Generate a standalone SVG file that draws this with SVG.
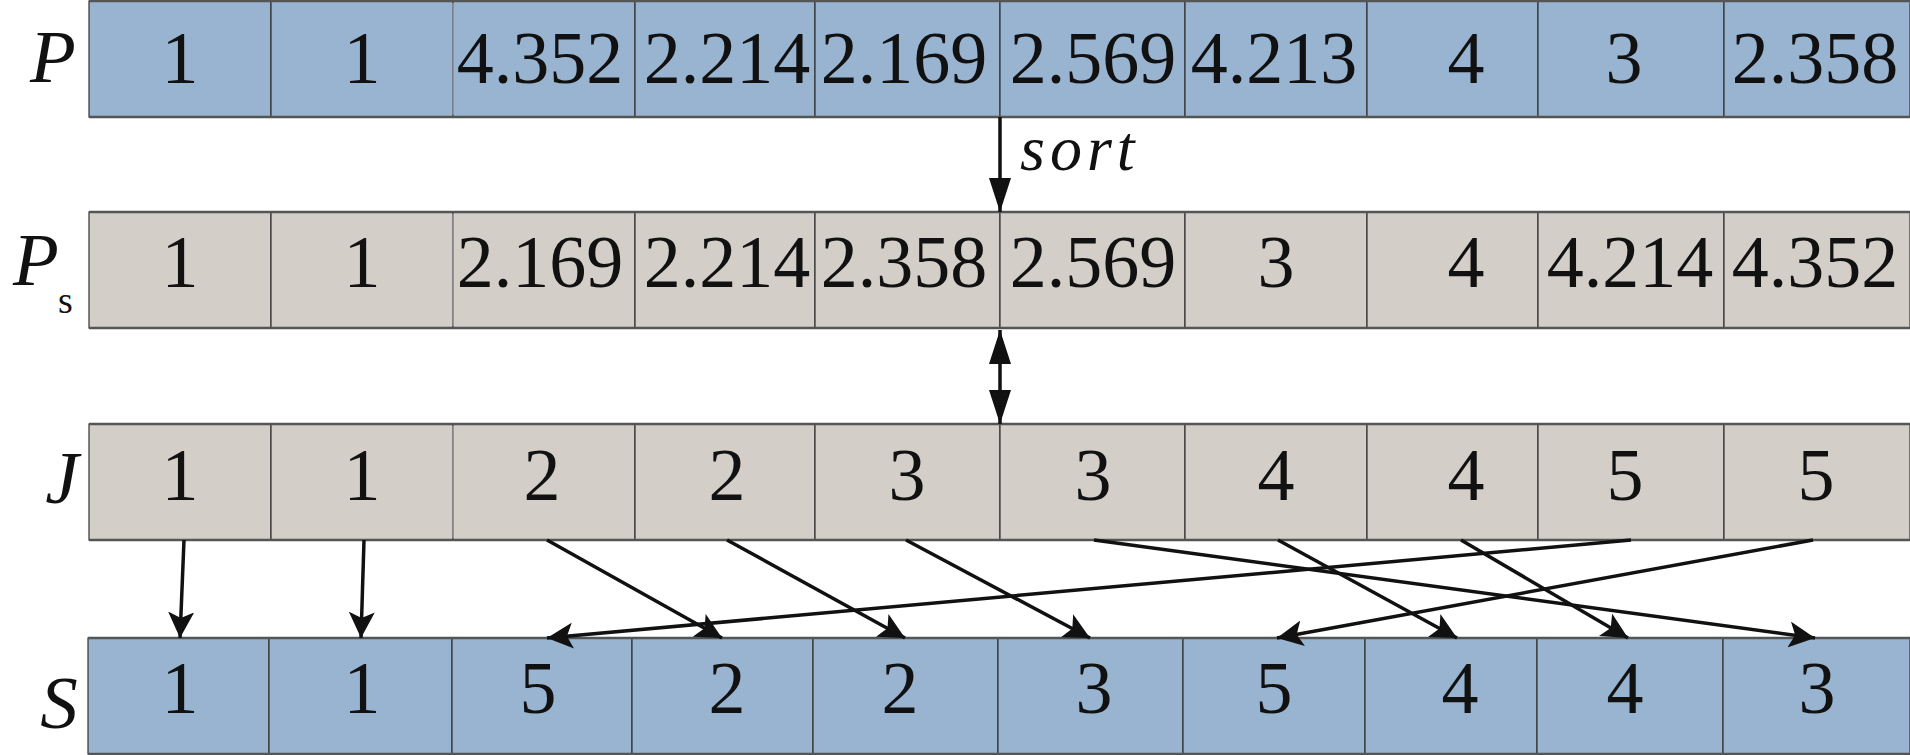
<svg xmlns="http://www.w3.org/2000/svg" width="1910" height="755" viewBox="0 0 1910 755">
<style>
.blue{fill:#99b4d1;stroke:#333;stroke-width:1.2}
.gray{fill:#d4cec9;stroke:#333;stroke-width:1.2}
.edge{stroke:#555;stroke-width:2.5;fill:none}
.faint{stroke:#b8bcc4;stroke-width:1}
.num{font-family:'Liberation Serif','Times New Roman',serif;font-size:74px;fill:#111;text-anchor:middle}
.lab{font-family:'Liberation Serif','Times New Roman',serif;font-size:75px;font-style:italic;fill:#111;text-anchor:middle}
.sub{font-family:'Liberation Serif','Times New Roman',serif;font-size:38px;fill:#111}
.sort{font-family:'Liberation Serif','Times New Roman',serif;font-size:64px;font-style:italic;fill:#111;letter-spacing:5px}
.con{stroke:#111;stroke-width:3.5;fill:none}
.big{stroke:#111;stroke-width:3.5;fill:none}
</style>
<defs>
<marker id="ah" viewBox="0 0 26 26" refX="26" refY="13" markerWidth="26" markerHeight="26" markerUnits="userSpaceOnUse" orient="auto">
<path d="M0,0 L26,13 L0,26 L6,13 Z" fill="#111"/>
</marker>
<marker id="bh" viewBox="0 0 34 22" refX="34" refY="11" markerWidth="34" markerHeight="22" markerUnits="userSpaceOnUse" orient="auto-start-reverse">
<path d="M0,0 L34,11 L0,22 Z" fill="#111"/>
</marker>
</defs>

<g id="row-P">
<text class="lab" x="53" y="82">P</text>
<g id="P-1"><rect class="blue" x="89" y="1" width="182" height="116"/><text class="num" x="180" y="83">1</text></g>
<g id="P-2"><rect class="blue" x="271" y="1" width="182" height="116"/><text class="num" x="362" y="83">1</text></g>
<g id="P-3"><rect class="blue" x="453" y="1" width="182" height="116"/><text class="num" x="540" y="83">4.352</text></g>
<g id="P-4"><rect class="blue" x="635" y="1" width="180" height="116"/><text class="num" x="727" y="83">2.214</text></g>
<g id="P-5"><rect class="blue" x="815" y="1" width="185" height="116"/><text class="num" x="904" y="83">2.169</text></g>
<g id="P-6"><rect class="blue" x="1000" y="1" width="185" height="116"/><text class="num" x="1093" y="83">2.569</text></g>
<g id="P-7"><rect class="blue" x="1185" y="1" width="182" height="116"/><text class="num" x="1274" y="83">4.213</text></g>
<g id="P-8"><rect class="blue" x="1367" y="1" width="171" height="116"/><text class="num" x="1466" y="83">4</text></g>
<g id="P-9"><rect class="blue" x="1538" y="1" width="186" height="116"/><text class="num" x="1624" y="83">3</text></g>
<g id="P-10"><rect class="blue" x="1724" y="1" width="186" height="116"/><text class="num" x="1815" y="83">2.358</text></g>
<line class="faint" x1="453" y1="3" x2="453" y2="115"/>
<path class="edge" d="M89,1 H1910 M89,117 H1910"/>
</g>

<g id="row-Ps">
<text class="lab" x="36" y="285">P</text><text class="sub" x="58" y="313">s</text>
<g id="Ps-1"><rect class="gray" x="89" y="212" width="182" height="116"/><text class="num" x="180" y="287">1</text></g>
<g id="Ps-2"><rect class="gray" x="271" y="212" width="182" height="116"/><text class="num" x="362" y="287">1</text></g>
<g id="Ps-3"><rect class="gray" x="453" y="212" width="182" height="116"/><text class="num" x="540" y="287">2.169</text></g>
<g id="Ps-4"><rect class="gray" x="635" y="212" width="180" height="116"/><text class="num" x="727" y="287">2.214</text></g>
<g id="Ps-5"><rect class="gray" x="815" y="212" width="185" height="116"/><text class="num" x="904" y="287">2.358</text></g>
<g id="Ps-6"><rect class="gray" x="1000" y="212" width="185" height="116"/><text class="num" x="1093" y="287">2.569</text></g>
<g id="Ps-7"><rect class="gray" x="1185" y="212" width="182" height="116"/><text class="num" x="1276" y="287">3</text></g>
<g id="Ps-8"><rect class="gray" x="1367" y="212" width="171" height="116"/><text class="num" x="1466" y="287">4</text></g>
<g id="Ps-9"><rect class="gray" x="1538" y="212" width="186" height="116"/><text class="num" x="1630" y="287">4.214</text></g>
<g id="Ps-10"><rect class="gray" x="1724" y="212" width="186" height="116"/><text class="num" x="1815" y="287">4.352</text></g>
<line class="faint" x1="453" y1="214" x2="453" y2="326"/>
<path class="edge" d="M89,212 H1910 M89,328 H1910"/>
</g>

<g id="row-J">
<text class="lab" x="62" y="503">J</text>
<g id="J-1"><rect class="gray" x="89" y="424" width="182" height="116"/><text class="num" x="180" y="500">1</text></g>
<g id="J-2"><rect class="gray" x="271" y="424" width="182" height="116"/><text class="num" x="362" y="500">1</text></g>
<g id="J-3"><rect class="gray" x="453" y="424" width="182" height="116"/><text class="num" x="542" y="500">2</text></g>
<g id="J-4"><rect class="gray" x="635" y="424" width="180" height="116"/><text class="num" x="727" y="500">2</text></g>
<g id="J-5"><rect class="gray" x="815" y="424" width="185" height="116"/><text class="num" x="907" y="500">3</text></g>
<g id="J-6"><rect class="gray" x="1000" y="424" width="185" height="116"/><text class="num" x="1093" y="500">3</text></g>
<g id="J-7"><rect class="gray" x="1185" y="424" width="182" height="116"/><text class="num" x="1276" y="500">4</text></g>
<g id="J-8"><rect class="gray" x="1367" y="424" width="171" height="116"/><text class="num" x="1466" y="500">4</text></g>
<g id="J-9"><rect class="gray" x="1538" y="424" width="186" height="116"/><text class="num" x="1625" y="500">5</text></g>
<g id="J-10"><rect class="gray" x="1724" y="424" width="186" height="116"/><text class="num" x="1816" y="500">5</text></g>
<line class="faint" x1="453" y1="426" x2="453" y2="538"/>
<path class="edge" d="M89,424 H1910 M89,540 H1910"/>
</g>

<g id="row-S">
<text class="lab" x="59" y="728">S</text>
<g id="S-1"><rect class="blue" x="88" y="638" width="181" height="116"/><text class="num" x="180" y="713">1</text></g>
<g id="S-2"><rect class="blue" x="269" y="638" width="183" height="116"/><text class="num" x="362" y="713">1</text></g>
<g id="S-3"><rect class="blue" x="452" y="638" width="180" height="116"/><text class="num" x="538" y="713">5</text></g>
<g id="S-4"><rect class="blue" x="632" y="638" width="181" height="116"/><text class="num" x="727" y="713">2</text></g>
<g id="S-5"><rect class="blue" x="813" y="638" width="185" height="116"/><text class="num" x="900" y="713">2</text></g>
<g id="S-6"><rect class="blue" x="998" y="638" width="185" height="116"/><text class="num" x="1094" y="713">3</text></g>
<g id="S-7"><rect class="blue" x="1183" y="638" width="182" height="116"/><text class="num" x="1274" y="713">5</text></g>
<g id="S-8"><rect class="blue" x="1365" y="638" width="172" height="116"/><text class="num" x="1460" y="713">4</text></g>
<g id="S-9"><rect class="blue" x="1537" y="638" width="186" height="116"/><text class="num" x="1625" y="713">4</text></g>
<g id="S-10"><rect class="blue" x="1723" y="638" width="187" height="116"/><text class="num" x="1817" y="713">3</text></g>
<path class="edge" d="M88,638 H1910 M88,754 H1910"/>
</g>

<g id="connectors">
<line class="big" x1="1000" y1="117" x2="1000" y2="212" marker-end="url(#bh)"/>
<text class="sort" x="1020" y="170">sort</text>
<line class="big" x1="1000" y1="330" x2="1000" y2="424" marker-start="url(#bh)" marker-end="url(#bh)"/>
<line class="con" x1="184" y1="540" x2="180" y2="638" marker-end="url(#ah)"/>
<line class="con" x1="364" y1="540" x2="361" y2="638" marker-end="url(#ah)"/>
<line class="con" x1="547" y1="540" x2="722" y2="638" marker-end="url(#ah)"/>
<line class="con" x1="727" y1="540" x2="905" y2="638" marker-end="url(#ah)"/>
<line class="con" x1="906" y1="540" x2="1090" y2="638" marker-end="url(#ah)"/>
<line class="con" x1="1094" y1="540" x2="1815" y2="638" marker-end="url(#ah)"/>
<line class="con" x1="1278" y1="540" x2="1457" y2="638" marker-end="url(#ah)"/>
<line class="con" x1="1461" y1="540" x2="1628" y2="638" marker-end="url(#ah)"/>
<line class="con" x1="1631" y1="540" x2="547" y2="638" marker-end="url(#ah)"/>
<line class="con" x1="1813" y1="540" x2="1277" y2="638" marker-end="url(#ah)"/>
</g>
</svg>
